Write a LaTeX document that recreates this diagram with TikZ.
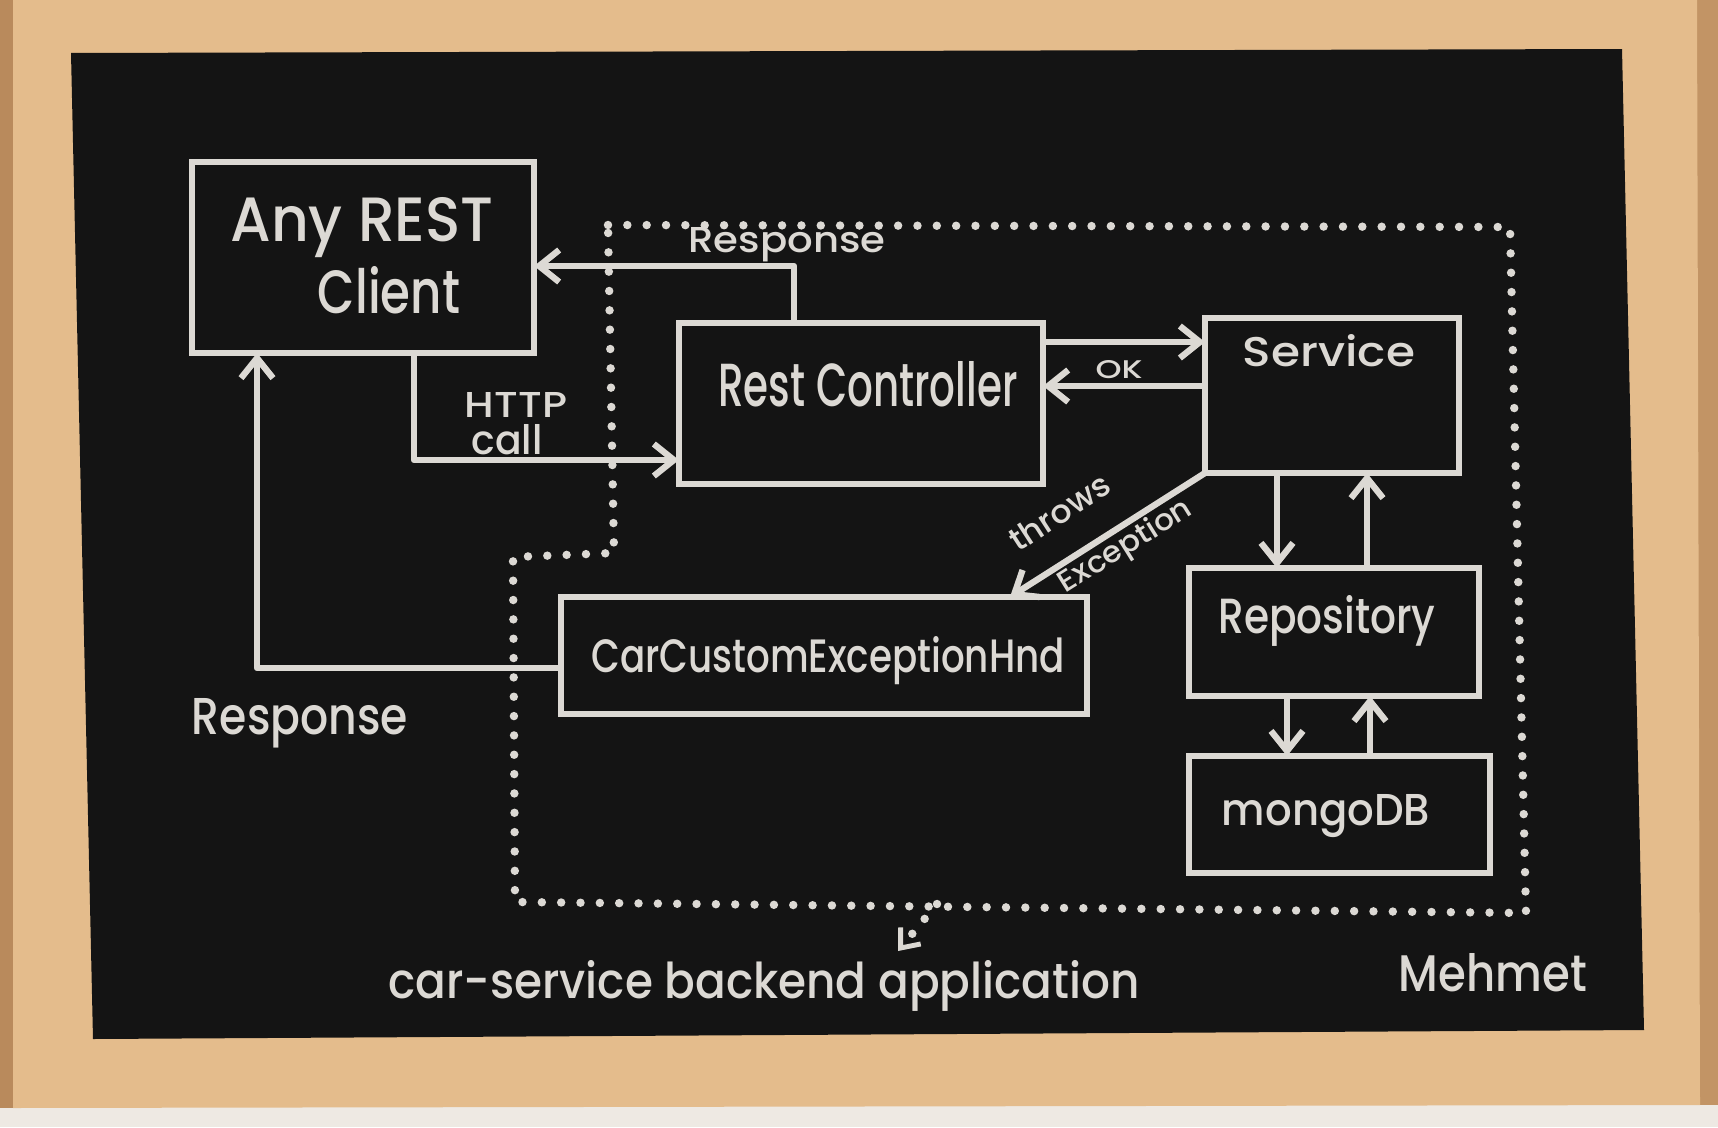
\documentclass[tikz,border=0pt]{standalone}
\usepackage{fontspec}
\setmainfont{Poppins}[BoldFont={Poppins Medium}]
\usetikzlibrary{arrows.meta}
\definecolor{chalk}{HTML}{DCD9D4}
\definecolor{board}{HTML}{141414}
\definecolor{wood}{HTML}{E4BC8C}
\definecolor{wall}{HTML}{EEE9E3}
\definecolor{walldark}{HTML}{B98A5C}
\newcommand{\chalktext}[3]{\resizebox{#1cm}{#2cm}{\bfseries #3}}
\begin{document}
\begin{tikzpicture}[x=0.01cm,y=-0.01cm,
  box/.style={draw=chalk, line width=1.8pt, inner sep=0pt, outer sep=0pt},
  txt/.style={text=chalk, inner sep=0pt},
  arr/.style={draw=chalk, line width=1.8pt, line join=round, -{Straight Barb[length=2mm,width=3.2mm]}},
  dots/.style={draw=chalk, line width=2.4pt, line cap=round, dash pattern=on 0pt off 5.5pt}]
\useasboundingbox (0,0) rectangle (1718,1127);
% frame and board
\fill[wall] (0,0) rectangle (1718,1127);
\fill[walldark] (0,0) rectangle (13,1108);
\fill[walldark!80!wood] (1697,0) rectangle (1718,1105);
\fill[wood] (13,0) -- (1697,0) -- (1700,1105) -- (13,1108) -- cycle;
\fill[board] (71,53) -- (1622,49) -- (1644,1030) -- (93,1039) -- cycle;

% boundary of the backend application
\draw[dots] (608,225) -- (1510,227) -- (1526,913) -- (515,902) -- (513,557) -- (614,553) -- cycle;

% boxes
\node[box, minimum width=3.42cm, minimum height=1.91cm] (client) at (363,257.5) {};
\node[box, minimum width=3.64cm, minimum height=1.61cm] (ctrl) at (861,403.5) {};
\node[box, minimum width=2.54cm, minimum height=1.55cm] (service) at (1332,395.5) {};
\node[box, minimum width=2.90cm, minimum height=1.28cm] (repo) at (1334,632) {};
\node[box, minimum width=3.01cm, minimum height=1.17cm] (mongo) at (1339.5,814.5) {};
\node[box, minimum width=5.26cm, minimum height=1.17cm] (handler) at (824,655.5) {};

% box texts
\node[txt] (tany) at (362,228) {\chalktext{2.63}{0.44}{Any REST}};
\node[txt] (tclient) at (389,290) {\chalktext{1.42}{0.47}{Client}};
\node[txt] (tctrl) at (868,384) {\chalktext{2.99}{0.45}{Rest Controller}};
\node[txt] (tservice) at (1329,351) {\chalktext{1.72}{0.32}{Service}};
\node[txt] (trepo) at (1327,621) {\chalktext{2.17}{0.38}{Repository}};
\node[txt] (tmongo) at (1326,816) {\chalktext{2.08}{0.31}{mongoDB}};
\node[txt] (thandler) at (828,661) {\chalktext{4.73}{0.36}{CarCustomExceptionHnd}};

% connectors
\coordinate (r1) at (794,266);
\draw[arr] (ctrl.north -| r1) -- (r1) -- (client.east |- r1);
\node[txt] (tresp1) at (787,245) {\chalktext{1.97}{0.25}{Response}};

\coordinate (h1) at (414,460);
\draw[arr] (client.south -| h1) -- (h1) -- (ctrl.west |- h1);
\node[txt] (thttp) at (516,405) {\chalktext{1.02}{0.25}{HTTP}};
\node[txt] (tcall) at (507,440) {\chalktext{0.71}{0.30}{call}};

\coordinate (s1) at (1100,342);
\draw[arr] (ctrl.east |- s1) -- (service.west |- s1);
\coordinate (s2) at (1100,386);
\draw[arr] (service.west |- s2) -- (ctrl.east |- s2);
\node[txt] (tok) at (1119,370) {\chalktext{0.47}{0.18}{OK}};

\coordinate (e1) at (1010,592);
\draw[arr] (service.south west) -- (handler.north -| e1);
\node[txt, rotate=33] (tthrows) at (1059,512) {\chalktext{1.13}{0.24}{throws}};
\node[txt, rotate=32] (texc) at (1126,547) {\chalktext{1.51}{0.23}{Exception}};

\coordinate (d1) at (1277,0);
\coordinate (u1) at (1367,0);
\draw[arr] (service.south -| d1) -- (repo.north -| d1);
\draw[arr] (repo.north -| u1) -- (service.south -| u1);
\coordinate (d2) at (1287,0);
\coordinate (u2) at (1370,0);
\draw[arr] (repo.south -| d2) -- (mongo.north -| d2);
\draw[arr] (mongo.north -| u2) -- (repo.south -| u2);

\coordinate (b1) at (257,668);
\draw[arr] (handler.west |- b1) -- (b1) -- (client.south -| b1);
\node[txt] (tresp2) at (300,723) {\chalktext{2.16}{0.36}{Response}};

% application label
\node[txt] (tapp) at (764,986) {\chalktext{7.51}{0.38}{car-service backend application}};
\coordinate (dd1) at (937,904);
\coordinate (dd2) at (898,951);
\draw[dots, -{Straight Barb[length=1.6mm,width=2.6mm,line width=1.4pt]}] (dd1) -- (dd2);

\node[txt] (tmehmet) at (1493,973) {\chalktext{1.88}{0.38}{Mehmet}};
\end{tikzpicture}
\end{document}
